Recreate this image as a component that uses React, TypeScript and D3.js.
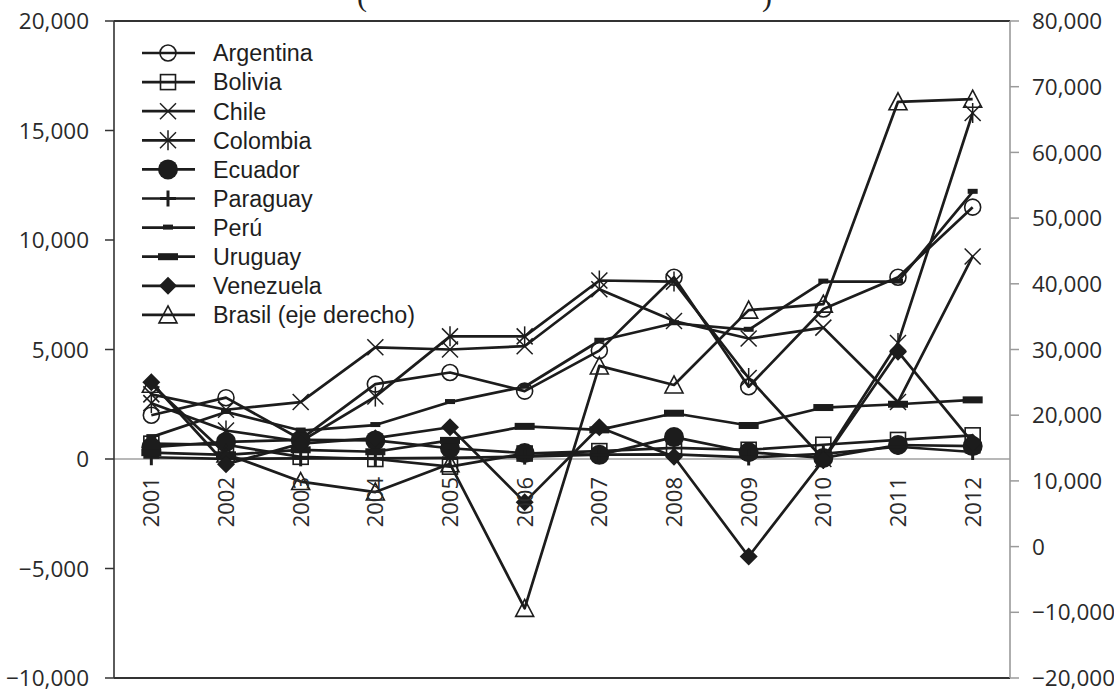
import React from 'react';
import * as d3 from 'd3';

const years = ['2001', '2002', '2003', '2004', '2005', '2006', '2007', '2008', '2009', '2010', '2011', '2012'];
const leftTicks = [-10000, -5000, 0, 5000, 10000, 15000, 20000];
const rightTicks = [-20000, -10000, 0, 10000, 20000, 30000, 40000, 50000, 60000, 70000, 80000];

const argentina = [2000, 2800, 900, 3420, 3950, 3100, 4950, 8300, 3300, 6850, 8300, 11500];
const bolivia = [700, 650, 100, 0, -350, 250, 360, 510, 420, 650, 870, 1080];
const chile = [2950, 2250, 2600, 5100, 5000, 5150, 7750, 6300, 5500, 6000, 2600, 9250];
const colombia = [2550, 1300, 800, 2850, 5600, 5600, 8150, 8100, 3700, 0, 5300, 15800];
const ecuador = [540, 780, 870, 850, 490, 270, 190, 1000, 310, 50, 640, 590];
const paraguay = [80, 10, 30, 30, 50, 110, 200, 210, 70, 230, 560, 320];
const peru = [1000, 2150, 1300, 1550, 2600, 3300, 5400, 6200, 5900, 8100, 8100, 12200];
const uruguay = [290, 190, 420, 330, 850, 1490, 1330, 2090, 1530, 2350, 2500, 2700];
const venezuela = [3500, -240, 700, 950, 1450, -1970, 1450, 100, -4450, -50, 4900, 750];
const brasil = [24700, 14100, 9900, 8300, 12600, -9400, 27500, 24600, 36000, 36900, 67700, 68100];

const seriesNames = ['Argentina', 'Bolivia', 'Chile', 'Colombia', 'Ecuador', 'Paraguay', 'Perú', 'Uruguay', 'Venezuela', 'Brasil (eje derecho)'];
const seriesValues = [argentina, bolivia, chile, colombia, ecuador, paraguay, peru, uruguay, venezuela, brasil];
const seriesMarkers = ['circle', 'square', 'x', 'asterisk', 'dot', 'plus', 'dash', 'bar', 'diamond', 'triangle'];
const seriesAxis = ['left', 'left', 'left', 'left', 'left', 'left', 'left', 'left', 'left', 'right'];

const INK = '#1c1c1c';

function Marker({ type, x, y }: { type: string; x: number; y: number }) {
  const sw = 1.6;
  switch (type) {
    case 'circle':
      return <circle cx={x} cy={y} r={8} fill="none" stroke={INK} strokeWidth={sw} />;
    case 'square':
      return <rect x={x - 7.5} y={y - 7.5} width={15} height={15} fill="none" stroke={INK} strokeWidth={sw} />;
    case 'x':
      return (
        <g stroke={INK} strokeWidth={1.5}>
          <line x1={x - 8} y1={y - 8} x2={x + 8} y2={y + 8} />
          <line x1={x - 8} y1={y + 8} x2={x + 8} y2={y - 8} />
        </g>
      );
    case 'asterisk':
      return (
        <g stroke={INK} strokeWidth={1.5}>
          <line x1={x - 8} y1={y - 8} x2={x + 8} y2={y + 8} />
          <line x1={x - 8} y1={y + 8} x2={x + 8} y2={y - 8} />
          <line x1={x} y1={y - 10} x2={x} y2={y + 10} />
        </g>
      );
    case 'dot':
      return <circle cx={x} cy={y} r={10} fill={INK} />;
    case 'plus':
      return (
        <g stroke={INK} strokeWidth={3}>
          <line x1={x} y1={y - 8} x2={x} y2={y + 8} />
          <line x1={x - 8} y1={y} x2={x + 8} y2={y} />
        </g>
      );
    case 'dash':
      return <rect x={x - 5} y={y - 3} width={10} height={5} fill={INK} />;
    case 'bar':
      return <rect x={x - 10} y={y - 3.5} width={20} height={7} fill={INK} />;
    case 'diamond':
      return <polygon points={`${x},${y - 9} ${x + 9},${y} ${x},${y + 9} ${x - 9},${y}`} fill={INK} />;
    case 'triangle':
      return <polygon points={`${x},${y - 9} ${x + 9},${y + 8} ${x - 9},${y + 8}`} fill="none" stroke={INK} strokeWidth={sw} />;
    default:
      return null;
  }
}

export default function App() {
  const W = 1114;
  const H = 695;
  const left = 114;
  const right = 1010;
  const top = 21;
  const bottom = 678;

  const x = d3.scaleBand<string>().domain(years).range([left, right]).padding(0);
  const cx = (yr: string) => (x(yr) as number) + x.bandwidth() / 2;
  const yL = d3.scaleLinear().domain([-10000, 20000]).range([bottom, top]);
  const yR = d3.scaleLinear().domain([-20000, 80000]).range([bottom, top]);
  const fmt = d3.format(',');

  const lineGen = (yScale: d3.ScaleLinear<number, number>) =>
    d3
      .line<number>()
      .x((_, i) => cx(years[i]))
      .y((v) => yScale(v));

  const font = "'Open Sans', 'DejaVu Sans', sans-serif";
  const legendFont = "'Liberation Sans', Arial, sans-serif";

  return (
    <svg
      width={W}
      height={H}
      viewBox={`0 0 ${W} ${H}`}
      style={{ position: 'absolute', left: 0, top: 0, background: '#fff' }}
    >
      <rect x={0} y={0} width={W} height={H} fill="#fff" />
      {/* title fragment, clipped at the top edge as in the reference */}
      <text x={357} y={6} fontFamily="'Liberation Serif', serif" fontSize={30} fill="#222">(</text>
      <text x={762} y={6} fontFamily="'Liberation Serif', serif" fontSize={30} fill="#222">)</text>

      {/* zero line */}
      <line x1={left} x2={right} y1={yL(0)} y2={yL(0)} stroke="#a0a0a0" strokeWidth={1.5} />

      {/* frame */}
      <line x1={left} x2={right} y1={top} y2={top} stroke="#333" strokeWidth={2} />
      <line x1={left} x2={right} y1={bottom} y2={bottom} stroke="#333" strokeWidth={2} />
      <line x1={left} x2={left} y1={top} y2={bottom} stroke="#333" strokeWidth={1.6} />
      <line x1={right} x2={right} y1={top} y2={bottom} stroke="#9a9a9a" strokeWidth={1.6} />

      {/* left axis */}
      {leftTicks.map((t) => (
        <g key={'l' + t}>
          <line x1={left - 9} x2={left} y1={yL(t)} y2={yL(t)} stroke="#333" strokeWidth={1.5} />
          <text x={89} y={yL(t)} dy="0.36em" textAnchor="end" fontFamily={font} fontSize={22.5} fill="#2a2a2a">
            {fmt(t)}
          </text>
        </g>
      ))}

      {/* right axis */}
      {rightTicks.map((t) => (
        <g key={'r' + t}>
          <line x1={right} x2={right + 9} y1={yR(t)} y2={yR(t)} stroke="#9a9a9a" strokeWidth={1.5} />
          <text x={1032} y={yR(t)} dy="0.36em" textAnchor="start" fontFamily={font} fontSize={22.5} fill="#2a2a2a">
            {fmt(t)}
          </text>
        </g>
      ))}

      {/* series lines */}
      {seriesValues.map((vals, si) => {
        const ys = seriesAxis[si] === 'right' ? yR : yL;
        return (
          <path
            key={'p' + si}
            d={lineGen(ys)(vals) || ''}
            fill="none"
            stroke={INK}
            strokeWidth={2.7}
            strokeLinejoin="round"
          />
        );
      })}

      {/* markers */}
      {seriesValues.map((vals, si) => {
        const ys = seriesAxis[si] === 'right' ? yR : yL;
        return (
          <g key={'m' + si}>
            {vals.map((v, i) => (
              <Marker key={i} type={seriesMarkers[si]} x={cx(years[i])} y={ys(v)} />
            ))}
          </g>
        );
      })}

      {/* year labels */}
      {years.map((yr) => (
        <text
          key={yr}
          transform={`translate(${cx(yr)},${yL(0) + 18}) rotate(-90)`}
          dy="0.36em"
          textAnchor="end"
          fontFamily={font}
          fontSize={22}
          fill="#2a2a2a"
        >
          {yr}
        </text>
      ))}

      {/* legend */}
      {seriesNames.map((name, i) => {
        const ly = 53 + i * 29.1;
        return (
          <g key={'lg' + i}>
            <line x1={142} x2={195} y1={ly} y2={ly} stroke={INK} strokeWidth={2.7} />
            <Marker type={seriesMarkers[i]} x={168} y={ly} />
            <text x={213} y={ly} dy="0.36em" fontFamily={legendFont} fontSize={23.3} fill="#1e1e1e">
              {name}
            </text>
          </g>
        );
      })}
    </svg>
  );
}
